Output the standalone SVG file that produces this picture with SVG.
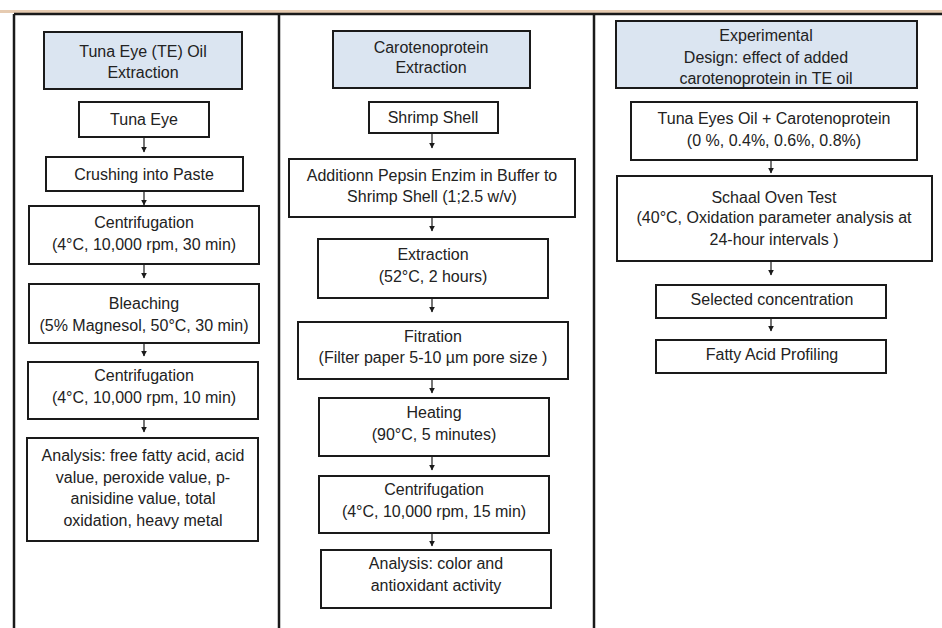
<svg xmlns="http://www.w3.org/2000/svg" width="942" height="628" viewBox="0 0 942 628">
<style>
.box{fill:#fff;stroke:#1a1a1a;stroke-width:2}
.hdr{fill:#dbe5f1;stroke:#1a1a1a;stroke-width:2}
.frame{stroke:#1a1a1a;stroke-width:2.5;fill:none}
text{font-family:"Liberation Sans",Arial,sans-serif;font-size:16px;fill:#222;text-anchor:middle}
.c{stroke:#1a1a1a;stroke-width:1.2;fill:none;marker-end:url(#ah)}
</style>
<defs>
<marker id="ah" viewBox="0 0 10 10" refX="9" refY="5" markerWidth="6" markerHeight="6" markerUnits="userSpaceOnUse" orient="auto">
<path d="M0,0L10,5L0,10z" fill="#1a1a1a"/>
</marker>
</defs>
<rect width="942" height="628" fill="#fff"/>
<g id="frame">
<rect x="0" y="10" width="942" height="3" fill="#e6cbb1"/>
<line class="frame" x1="14" y1="14" x2="942" y2="14"/>
<line class="frame" x1="14" y1="14" x2="14" y2="628"/>
<line class="frame" x1="279" y1="14" x2="279" y2="628"/>
<line class="frame" x1="594" y1="14" x2="594" y2="628"/>
</g>
<g id="connectors">
<line class="c" x1="144" y1="137" x2="144" y2="152"/>
<line class="c" x1="144" y1="191" x2="144" y2="205"/>
<line class="c" x1="144" y1="264" x2="144" y2="278"/>
<line class="c" x1="144" y1="343" x2="144" y2="356"/>
<line class="c" x1="144" y1="419" x2="144" y2="432"/>
<line class="c" x1="432" y1="133" x2="432" y2="148"/>
<line class="c" x1="432" y1="217" x2="432" y2="231"/>
<line class="c" x1="432" y1="298" x2="432" y2="312"/>
<line class="c" x1="432" y1="379" x2="432" y2="393"/>
<line class="c" x1="432" y1="456" x2="432" y2="470"/>
<line class="c" x1="432" y1="533" x2="432" y2="546"/>
<line class="c" x1="771" y1="160" x2="771" y2="173"/>
<line class="c" x1="771" y1="261" x2="771" y2="275"/>
<line class="c" x1="771" y1="318" x2="771" y2="331"/>
</g>
<g id="h1"><rect class="hdr" x="44" y="32" width="198" height="57"/>
<text x="143" y="57">Tuna Eye (TE) Oil</text><text x="143" y="78">Extraction</text></g>
<g id="n1"><rect class="box" x="79" y="102" width="130" height="35"/><text x="144" y="125">Tuna Eye</text></g>
<g id="n2"><rect class="box" x="46" y="157" width="197" height="34"/><text x="144" y="180">Crushing into Paste</text></g>
<g id="n3"><rect class="box" x="29" y="206" width="230" height="58"/><text x="144" y="228">Centrifugation</text><text x="144" y="250">(4°C, 10,000 rpm, 30 min)</text></g>
<g id="n4"><rect class="box" x="29" y="284" width="230" height="59"/><text x="144" y="309">Bleaching</text><text x="144" y="331">(5% Magnesol, 50°C, 30 min)</text></g>
<g id="n5"><rect class="box" x="28" y="362" width="230" height="57"/><text x="144" y="381">Centrifugation</text><text x="144" y="403">(4°C, 10,000 rpm, 10 min)</text></g>
<g id="n6"><rect class="box" x="27" y="438" width="231" height="103"/>
<text x="143" y="461">Analysis: free fatty acid, acid</text><text x="143" y="483">value, peroxide value, p-</text><text x="143" y="504">anisidine value, total</text><text x="143" y="526">oxidation, heavy metal</text></g>
<g id="h2"><rect class="hdr" x="333" y="31" width="197" height="57"/>
<text x="431" y="53">Carotenoprotein</text><text x="431" y="73">Extraction</text></g>
<g id="m1"><rect class="box" x="369" y="102" width="129" height="31"/><text x="433" y="123">Shrimp Shell</text></g>
<g id="m2"><rect class="box" x="289" y="159" width="286" height="58"/><text x="432" y="181">Additionn Pepsin Enzim in Buffer to</text><text x="432" y="202">Shrimp Shell (1;2.5 w/v)</text></g>
<g id="m3"><rect class="box" x="318" y="239" width="230" height="59"/><text x="433" y="260">Extraction</text><text x="433" y="282">(52°C, 2 hours)</text></g>
<g id="m4"><rect class="box" x="298" y="322" width="270" height="57"/><text x="433" y="342">Fitration</text><text x="433" y="363">(Filter paper 5-10 µm pore size )</text></g>
<g id="m5"><rect class="box" x="319" y="398" width="230" height="58"/><text x="434" y="418">Heating</text><text x="434" y="440">(90°C, 5 minutes)</text></g>
<g id="m6"><rect class="box" x="319" y="476" width="230" height="57"/><text x="434" y="495">Centrifugation</text><text x="434" y="517">(4°C, 10,000 rpm, 15 min)</text></g>
<g id="m7"><rect class="box" x="321" y="550" width="230" height="58"/><text x="436" y="569">Analysis: color and</text><text x="436" y="591">antioxidant activity</text></g>
<g id="h3"><rect class="hdr" x="616" y="21" width="301" height="67"/>
<text x="766" y="41">Experimental</text><text x="766" y="63">Design: effect of added</text><text x="766" y="84">carotenoprotein  in TE oil</text></g>
<g id="r1"><rect class="box" x="631" y="102" width="286" height="58"/><text x="774" y="124">Tuna Eyes Oil + Carotenoprotein</text><text x="774" y="146">(0 %,  0.4%, 0.6%, 0.8%)</text></g>
<g id="r2"><rect class="box" x="617" y="176" width="315" height="85"/><text x="774" y="203">Schaal Oven Test</text><text x="774" y="223">(40°C, Oxidation parameter analysis at</text><text x="774" y="245">24-hour intervals )</text></g>
<g id="r3"><rect class="box" x="656" y="285" width="230" height="33"/><text x="772" y="305">Selected concentration</text></g>
<g id="r4"><rect class="box" x="656" y="340" width="230" height="33"/><text x="772" y="360">Fatty Acid Profiling</text></g>
</svg>
